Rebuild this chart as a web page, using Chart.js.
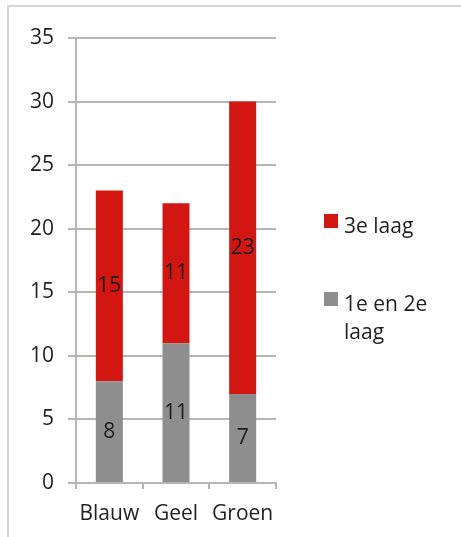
<!DOCTYPE html>
<html>
<head>
<meta charset="utf-8">
<script src="https://cdn.jsdelivr.net/npm/chart.js@4/dist/chart.umd.min.js"></script>
<style>
  html, body { margin: 0; padding: 0; background: #fff; }
  #wrap { position: relative; width: 461px; height: 537px; overflow: hidden; }
  #frame { position: absolute; left: 7px; top: 5px; right: -10px; bottom: -10px;
           border-top: 2px solid #d6d6d6; border-left: 2px solid #d6d6d6; }
  #chart { position: absolute; left: 0; top: 0; }
  #legend { position: absolute; left: 324px; top: 211px; font-family: 'Open Sans', sans-serif;
            font-size: 21px; line-height: 28px; color: #1f1f1f; }
  .item { display: flex; align-items: flex-start; margin-bottom: 50px; }
  .swatch { width: 14px; height: 14px; margin-top: 3px; margin-right: 6px; flex: none; }
  .text { width: 100px; }
</style>
</head>
<body>
<div id="wrap">
  <div id="frame"></div>
  <canvas id="chart" width="461" height="537"></canvas>
  <div id="legend"></div>
</div>
<script>
const categories = ['Blauw', 'Geel', 'Groen'];
const lowerLayers = [8, 11, 7];     // 1e en 2e laag
const thirdLayer = [15, 11, 23];    // 3e laag
const seriesNames = ['1e en 2e laag', '3e laag'];
const seriesColors = ['#8e8e8e', '#d21611'];

const FONT = { family: "'Open Sans', sans-serif", size: 21 };
const GRID = '#b6b6b6';

// Writes each segment's value in the middle of its bar
const barValues = {
  id: 'barValues',
  afterDatasetsDraw(chart) {
    const ctx = chart.ctx;
    ctx.save();
    ctx.font = `${FONT.size}px ${FONT.family}`;
    ctx.fillStyle = '#1c1c1c';
    ctx.textAlign = 'center';
    ctx.textBaseline = 'middle';
    chart.data.datasets.forEach((ds, i) => {
      chart.getDatasetMeta(i).data.forEach((bar, j) => {
        const y = (bar.y + bar.base) / 2;
        ctx.fillText(String(ds.data[j]), bar.x, y);
      });
    });
    ctx.restore();
  }
};

const chart = new Chart(document.getElementById('chart'), {
  type: 'bar',
  data: {
    labels: categories,
    datasets: [
      { label: seriesNames[0], data: lowerLayers, backgroundColor: seriesColors[0] },
      { label: seriesNames[1], data: thirdLayer, backgroundColor: seriesColors[1] }
    ]
  },
  options: {
    responsive: false,
    animation: false,
    categoryPercentage: 1,
    barPercentage: 0.405,
    layout: { padding: { top: 38, right: 185, left: 0, bottom: 0 } },
    plugins: { legend: { display: false }, tooltip: { enabled: false } },
    scales: {
      x: {
        stacked: true,
        grid: { offset: true, drawOnChartArea: false, drawTicks: true, tickLength: 6, color: GRID, lineWidth: 2 },
        border: { color: GRID, width: 2 },
        ticks: { font: FONT, color: '#1f1f1f', padding: 12, autoSkip: false, maxRotation: 0, minRotation: 0 },
        afterFit(scale) { scale.height = 54; }
      },
      y: {
        stacked: true,
        min: 0,
        max: 35,
        ticks: { stepSize: 5, font: FONT, color: '#1f1f1f', padding: 14 },
        grid: { color: GRID, lineWidth: 2, tickLength: 8 },
        border: { color: GRID, width: 2 },
        afterFit(scale) { scale.width = 76; }
      }
    }
  },
  plugins: [barValues]
});

// Legend on the right, top entry is the top of the stack
const legend = document.getElementById('legend');
chart.data.datasets.slice().reverse().forEach(ds => {
  const item = document.createElement('div');
  item.className = 'item';
  const sw = document.createElement('div');
  sw.className = 'swatch';
  sw.style.background = ds.backgroundColor;
  const tx = document.createElement('div');
  tx.className = 'text';
  tx.textContent = ds.label;
  item.appendChild(sw);
  item.appendChild(tx);
  legend.appendChild(item);
});
</script>
</body>
</html>
